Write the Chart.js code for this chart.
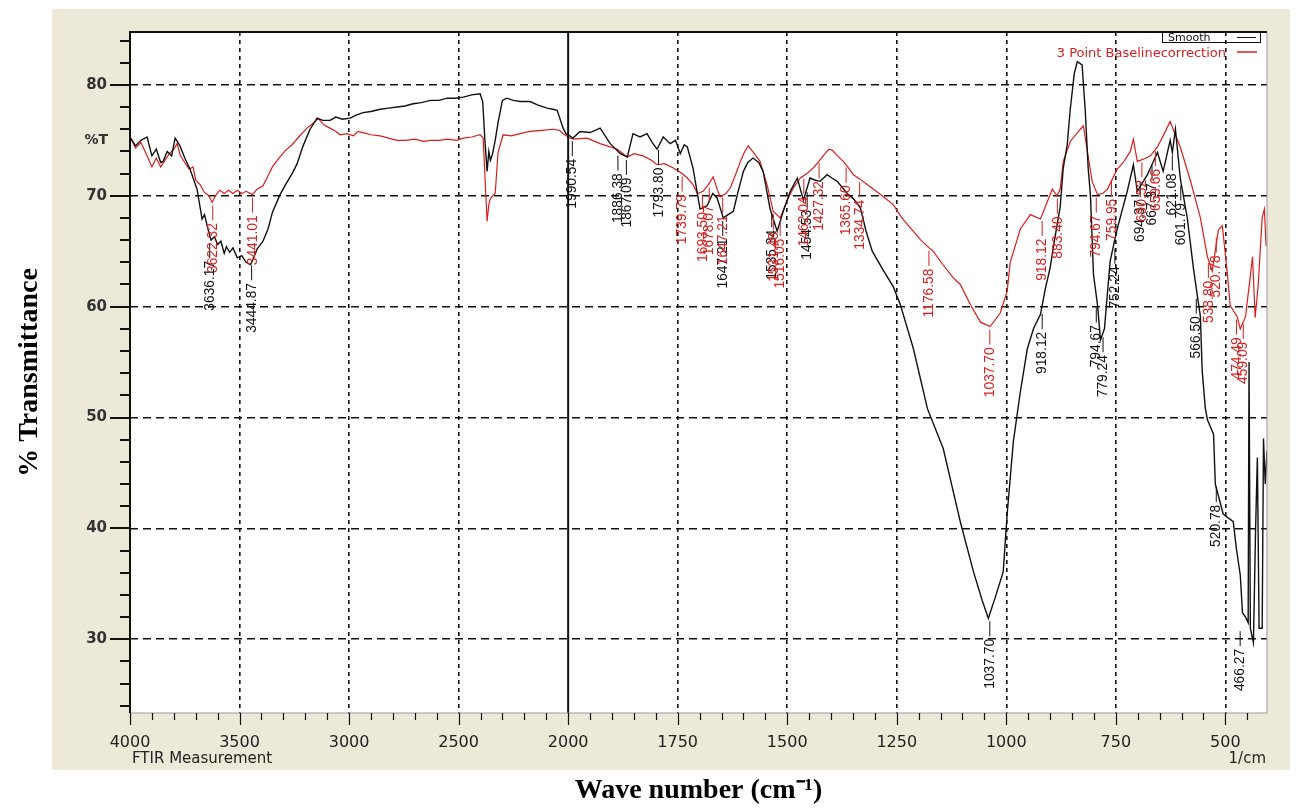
<!DOCTYPE html>
<html>
<head>
<meta charset="utf-8">
<script src="https://cdn.jsdelivr.net/npm/chart.js@4.4.1/dist/chart.umd.min.js"></script>
<style>
  html, body { margin: 0; padding: 0; background: #fff; }
</style>
</head>
<body>
<canvas id="ftir" width="1296" height="808"></canvas>
<script>
// wavenumber (1/cm), %T
const smoothPts = [
  [4000,75.3],[3975,74.5],[3950,75.0],[3922,75.3],[3900,73.6],[3880,74.2],[3860,73.0],[3849,73.1],[3830,74.0],[3810,73.6],
  [3794,75.2],[3772,74.5],[3750,73.4],[3726,72.4],[3694,70.6],[3671,67.9],[3660,68.3],[3644,67.0],[3630,66.0],[3615,66.3],
  [3600,65.6],[3585,65.9],[3570,64.8],[3560,65.4],[3545,64.9],[3530,65.3],[3510,64.4],[3490,64.6],[3470,64.0],[3450,63.8],
  [3444,64.0],[3420,65.2],[3393,65.9],[3370,67.0],[3350,68.5],[3315,70.1],[3290,71.0],[3260,72.0],[3237,72.9],[3210,74.5],
  [3178,76.0],[3146,77.0],[3120,76.8],[3087,76.8],[3060,77.1],[3030,76.9],[2995,77.0],[2965,77.3],[2936,77.5],[2900,77.6],
  [2858,77.8],[2820,77.9],[2781,78.0],[2745,78.1],[2708,78.3],[2670,78.4],[2630,78.6],[2590,78.6],[2552,78.8],[2515,78.8],
  [2479,78.9],[2440,79.1],[2402,79.2],[2390,78.5],[2380,75.0],[2370,72.2],[2362,74.0],[2355,73.2],[2345,73.8],[2333,75.0],
  [2320,76.6],[2300,78.6],[2280,78.8],[2250,78.6],[2220,78.5],[2174,78.5],[2140,78.2],[2096,77.9],[2070,77.8],[2050,77.7],
  [2035,76.8],[2023,76.1],[2010,75.6],[2000,75.5],[1989,75.2],[1973,75.8],[1950,75.7],[1927,76.1],[1904,74.7],[1881,73.8],
  [1865,73.5],[1852,75.6],[1836,75.3],[1820,75.6],[1808,74.8],[1797,74.2],[1783,75.3],[1767,74.7],[1755,75.0],[1744,73.8],
  [1735,74.6],[1728,74.4],[1715,72.5],[1699,68.8],[1683,69.1],[1670,70.2],[1660,69.8],[1646,68.0],[1635,68.3],[1623,68.6],
  [1612,70.4],[1600,72.2],[1590,73.0],[1578,73.4],[1565,73.0],[1555,72.2],[1539,68.8],[1523,66.8],[1509,68.6],[1493,70.4],
  [1477,71.6],[1463,69.6],[1448,71.6],[1436,71.4],[1425,71.3],[1409,71.9],[1398,71.6],[1386,71.3],[1363,70.2],[1348,69.7],
  [1333,68.9],[1320,66.8],[1306,65.0],[1281,63.3],[1258,61.8],[1242,60.2],[1212,56.2],[1180,50.8],[1144,47.2],[1125,44.0],
  [1105,40.6],[1075,36.1],[1055,33.5],[1041,31.9],[1025,33.8],[1007,36.1],[998,41.3],[984,47.8],[968,52.3],[952,56.2],
  [938,58.0],[922,59.3],[911,61.6],[900,63.5],[890,66.0],[877,69.0],[870,72.5],[861,74.6],[854,77.8],[845,81.0],
  [838,82.1],[827,81.8],[820,77.8],[813,72.4],[808,70.1],[801,62.9],[792,60.2],[785,57.0],[776,58.0],[763,64.1],
  [747,67.0],[724,70.4],[710,72.8],[701,70.4],[678,71.9],[655,73.9],[642,72.2],[626,75.0],[621,73.9],[614,76.0],
  [603,71.6],[587,68.0],[573,63.5],[564,61.0],[557,59.1],[553,54.3],[546,50.9],[541,49.8],[527,48.5],[523,44.0],
  [505,41.3],[482,40.6],[475,38.2],[466,35.8],[461,32.4],[454,32.0],[448,31.5],[446,55.0],[443,31.0],[436,29.7],
  [431,40.0],[427,46.4],[423,31.0],[416,31.0],[413,48.1],[409,44.0],[405,47.0]
];
const baselinePts = [
  [4000,75.3],[3975,74.3],[3950,74.8],[3922,73.6],[3900,72.6],[3880,73.4],[3860,72.6],[3840,73.2],[3820,73.8],[3800,74.2],
  [3785,74.7],[3770,73.6],[3750,73.0],[3730,72.4],[3712,72.6],[3700,71.4],[3680,71.0],[3660,70.3],[3640,70.0],[3625,69.4],
  [3610,70.0],[3590,70.5],[3570,70.2],[3550,70.5],[3530,70.2],[3510,70.5],[3490,70.2],[3470,70.4],[3441,70.1],[3420,70.6],
  [3393,70.9],[3370,71.8],[3350,72.6],[3320,73.4],[3290,74.1],[3260,74.6],[3230,75.3],[3192,76.1],[3160,76.6],[3142,77.0],
  [3115,76.4],[3087,76.1],[3060,75.8],[3041,75.5],[3010,75.6],[2980,75.4],[2960,75.8],[2936,75.7],[2900,75.5],[2858,75.4],
  [2820,75.2],[2781,75.0],[2740,75.0],[2700,75.1],[2660,74.9],[2630,75.0],[2590,75.0],[2550,75.1],[2510,75.0],[2479,75.2],
  [2440,75.3],[2402,75.5],[2388,75.2],[2378,71.0],[2370,67.7],[2362,69.2],[2356,69.7],[2345,70.0],[2333,70.2],[2320,73.9],
  [2297,75.5],[2260,75.4],[2220,75.6],[2174,75.8],[2120,75.9],[2068,76.0],[2040,75.9],[2023,75.6],[2000,75.3],[1989,75.1],
  [1957,75.2],[1927,74.7],[1888,74.2],[1865,73.5],[1850,73.8],[1829,73.6],[1810,73.2],[1797,72.8],[1780,72.9],[1760,72.5],
  [1740,72.0],[1728,71.6],[1715,71.0],[1705,70.2],[1692,70.4],[1680,71.0],[1669,71.7],[1660,70.6],[1653,69.9],[1640,70.2],
  [1630,70.7],[1618,71.9],[1607,73.1],[1598,73.9],[1589,74.5],[1575,73.8],[1562,73.1],[1546,71.0],[1532,68.6],[1516,68.0],
  [1500,69.6],[1486,70.7],[1470,71.6],[1455,72.0],[1441,72.5],[1430,73.0],[1418,73.6],[1405,74.2],[1397,74.1],[1385,73.6],
  [1372,73.1],[1360,72.5],[1349,71.9],[1334,71.5],[1317,71.0],[1290,70.2],[1258,69.2],[1240,68.1],[1219,67.1],[1195,66.0],
  [1176,65.3],[1167,65.0],[1145,63.8],[1121,62.6],[1105,62.0],[1082,60.2],[1059,58.6],[1037,58.2],[1014,59.4],[998,61.4],
  [991,64.0],[968,67.0],[945,68.3],[922,67.9],[906,69.5],[895,70.6],[884,70.0],[877,70.6],[870,73.1],[854,74.9],
  [831,76.0],[824,76.3],[815,74.0],[804,71.3],[792,70.1],[780,70.2],[769,70.6],[747,72.4],[733,73.0],[717,74.0],
  [710,75.1],[701,73.1],[687,73.3],[671,73.6],[655,74.4],[642,75.4],[626,76.7],[615,75.6],[603,74.4],[580,71.4],
  [557,68.0],[541,64.5],[530,63.2],[516,66.9],[507,67.3],[496,63.2],[489,60.1],[473,59.1],[466,58.0],[454,59.1],
  [443,62.8],[438,64.5],[432,59.0],[425,62.0],[416,68.0],[411,68.8],[407,65.5]
];
const xTickWn = [4000, 3500, 3000, 2500, 2000, 1750, 1500, 1250, 1000, 750, 500];
// peak picks: [wavenumber, %T, text]
const smoothPeaks = [
  [3636.17,66.0,'3636.17'],[3444.87,64.0,'3444.87'],[1990.54,75.2,'1990.54'],[1886.38,73.9,'1886.38'],
  [1867.09,73.5,'1867.09'],[1793.80,74.4,'1793.80'],[1647.21,68.0,'1647.21'],[1535.34,68.8,'1535.34'],
  [1454.53,70.6,'1454.53'],[1037.70,31.9,'1037.70'],[918.12,59.6,'918.12'],[794.67,60.2,'794.67'],
  [779.24,57.5,'779.24'],[752.24,65.5,'752.24'],[694.37,71.5,'694.37'],[667.37,73.0,'667.37'],
  [621.08,73.9,'621.08'],[601.79,71.2,'601.79'],[566.50,61.0,'566.50'],[520.78,44.0,'520.78'],[466.27,31.0,'466.27']
];
const baselinePeaks = [
  [3622.32,69.4,'3622.32'],[3441.01,70.1,'3441.01'],[1739.79,72.0,'1739.79'],[1693.50,70.4,'1693.50'],
  [1678.07,71.0,'1678.07'],[1647.21,70.1,'1647.21'],[1531.48,68.6,'1531.48'],[1516.05,68.0,'1516.05'],
  [1462.04,71.8,'1462.04'],[1427.32,73.2,'1427.32'],[1365.60,72.8,'1365.60'],[1334.74,71.5,'1334.74'],
  [1176.58,65.3,'1176.58'],[1037.70,58.2,'1037.70'],[918.12,68.0,'918.12'],[883.40,70.0,'883.40'],
  [794.67,70.1,'794.67'],[759.95,71.6,'759.95'],[690.52,73.3,'690.52'],[659.66,74.3,'659.66'],
  [538.80,64.2,'538.80'],[520.78,66.5,'520.78'],[474.49,59.1,'474.49'],[459.09,58.7,'459.09']
];

// axis is split at 2000: 500 per unit above, 250 per unit below
const toU = (wn) => wn >= 2000 ? (4000 - wn) / 500 : 4 + (2000 - wn) / 250;
const isMajor = (v) => Math.abs(v - Math.round(v)) < 1e-6;
const isTen = (v) => Math.abs(v / 10 - Math.round(v / 10)) < 1e-6;

const RED = '#d81e1e';

function drawPeak(ctx, xs, ys, p, color) {
  const px = xs.getPixelForValue(toU(p[0]));
  const py = ys.getPixelForValue(p[1]);
  ctx.save();
  ctx.translate(px, py);
  ctx.rotate(-Math.PI / 2);
  ctx.strokeStyle = color;
  ctx.lineWidth = 1;
  ctx.beginPath(); ctx.moveTo(-3, 0); ctx.lineTo(-18, 0); ctx.stroke();
  ctx.scale(1.15, 1.25);
  ctx.fillStyle = color;
  ctx.font = '12px "Liberation Sans", Arial, sans-serif';
  ctx.textAlign = 'right';
  ctx.textBaseline = 'middle';
  ctx.fillText(p[2], -18, 0);
  ctx.restore();
}

const ftirFrame = {
  id: 'ftirFrame',
  beforeDraw(chart) {
    const {ctx, chartArea: a} = chart;
    ctx.save();
    ctx.fillStyle = '#ece9d8';
    ctx.fillRect(52, 9, 1238, 761);
    ctx.fillStyle = '#fff';
    ctx.fillRect(a.left, a.top, a.right - a.left, a.bottom - a.top);
    ctx.restore();
  },
  afterDraw(chart) {
    const {ctx, chartArea: a, scales: {x, y}} = chart;
    ctx.save();
    // solid split line at 2000
    const xs = x.getPixelForValue(toU(2000));
    ctx.strokeStyle = '#111'; ctx.lineWidth = 2;
    ctx.beginPath(); ctx.moveTo(xs, a.top); ctx.lineTo(xs, a.bottom); ctx.stroke();

    // frame
    ctx.strokeStyle = '#9a9a9a'; ctx.lineWidth = 1;
    ctx.beginPath();
    ctx.moveTo(a.right, a.top); ctx.lineTo(a.right, a.bottom); ctx.lineTo(a.left, a.bottom);
    ctx.stroke();
    ctx.strokeStyle = '#111'; ctx.lineWidth = 2;
    ctx.beginPath();
    ctx.moveTo(a.left, a.bottom); ctx.lineTo(a.left, a.top); ctx.lineTo(a.right, a.top);
    ctx.stroke();

    // tick marks
    ctx.lineWidth = 2;
    y.ticks.forEach(t => {
      const py = Math.round(y.getPixelForValue(t.value));
      const len = isTen(t.value) ? 20 : 10;
      ctx.beginPath(); ctx.moveTo(a.left - len, py); ctx.lineTo(a.left, py); ctx.stroke();
    });
    ctx.lineWidth = 1.2;
    x.ticks.forEach(t => {
      const px = Math.round(x.getPixelForValue(t.value)) + 0.5;
      const len = isMajor(t.value) ? 12 : 7;
      ctx.beginPath(); ctx.moveTo(px, a.bottom); ctx.lineTo(px, a.bottom + len); ctx.stroke();
    });

    // %T marker on y axis
    ctx.fillStyle = '#333';
    ctx.font = 'bold 14px "DejaVu Sans", sans-serif';
    ctx.textAlign = 'right'; ctx.textBaseline = 'middle';
    ctx.fillText('%T', a.left - 22, y.getPixelForValue(75));

    // footer texts
    ctx.fillStyle = '#222';
    ctx.font = '15px "DejaVu Sans", sans-serif';
    ctx.textBaseline = 'alphabetic';
    ctx.textAlign = 'left';
    ctx.fillText('FTIR Measurement', a.left + 2, 763);
    ctx.textAlign = 'right';
    ctx.fillText('1/cm', a.right - 1, 763);

    // peak picks
    smoothPeaks.forEach(p => drawPeak(ctx, x, y, p, '#111'));
    baselinePeaks.forEach(p => drawPeak(ctx, x, y, p, RED));

    // legend
    ctx.textBaseline = 'alphabetic';
    ctx.strokeStyle = '#111'; ctx.lineWidth = 1;
    ctx.strokeRect(1162.5, 31.5, 98, 11);
    ctx.font = '11px "DejaVu Sans", sans-serif';
    ctx.fillStyle = '#111'; ctx.textAlign = 'left';
    ctx.fillText('Smooth', 1168, 41);
    ctx.beginPath(); ctx.moveTo(1237, 37.5); ctx.lineTo(1256, 37.5); ctx.stroke();
    ctx.font = '13px "DejaVu Sans", sans-serif';
    ctx.fillStyle = RED; ctx.textAlign = 'right';
    ctx.fillText('3 Point Baselinecorrection', 1226, 57);
    ctx.strokeStyle = RED; ctx.lineWidth = 1.5;
    ctx.beginPath(); ctx.moveTo(1237, 52); ctx.lineTo(1257, 52); ctx.stroke();
    ctx.restore();
  }
};

new Chart(document.getElementById('ftir'), {
  type: 'line',
  data: {
    datasets: [
      { label: 'Smooth', data: smoothPts.map(p => ({x: toU(p[0]), y: p[1]})),
        borderColor: '#111', borderWidth: 1.4, pointRadius: 0, tension: 0 },
      { label: '3 Point Baselinecorrection', data: baselinePts.map(p => ({x: toU(p[0]), y: p[1]})),
        borderColor: RED, borderWidth: 1.2, pointRadius: 0, tension: 0 }
    ]
  },
  options: {
    responsive: false,
    animation: false,
    parsing: false,
    layout: { padding: { top: 30, right: 29, bottom: 0, left: 0 } },
    plugins: { legend: { display: false }, tooltip: { enabled: false } },
    scales: {
      x: {
        type: 'linear', min: 0, max: 10.38,
        afterFit: (s) => { s.height = 95; },
        ticks: {
          stepSize: 0.2, includeBounds: false, autoSkip: false, maxRotation: 0, maxTicksLimit: 100,
          padding: 20, color: '#222', font: { family: '"DejaVu Sans", sans-serif', size: 16 },
          callback: (v) => isMajor(v) ? String(xTickWn[Math.round(v)]) : ''
        },
        grid: {
          drawTicks: false, lineWidth: 1.6,
          color: (c) => (c.tick && isMajor(c.tick.value) && c.tick.value > 0.5 && Math.round(c.tick.value) !== 4) ? '#111' : 'rgba(0,0,0,0)'
        },
        border: { display: false, dash: [4, 4] },
        title: {
          display: true, text: 'Wave number (cm\u207B\u00B9)', color: '#000',
          font: { family: '"Liberation Serif", "Times New Roman", serif', size: 28, weight: 'bold' },
          padding: { top: 0, bottom: 0 }
        }
      },
      y: {
        type: 'linear', min: 23.35, max: 84.77,
        afterFit: (s) => { s.width = 130; },
        ticks: {
          stepSize: 2, includeBounds: false, autoSkip: false, maxTicksLimit: 100,
          padding: 23, color: '#333', font: { family: '"DejaVu Sans", sans-serif', size: 15, weight: 'bold' },
          callback: (v) => isTen(v) ? String(Math.round(v)) : ''
        },
        grid: {
          drawTicks: false, lineWidth: 1.6,
          color: (c) => (c.tick && isTen(c.tick.value)) ? '#111' : 'rgba(0,0,0,0)'
        },
        border: { display: false, dash: [8, 5] },
        title: {
          display: true, text: '% Transmittance', color: '#000',
          font: { family: '"Liberation Serif", "Times New Roman", serif', size: 28, weight: 'bold' },
          padding: { top: 13, bottom: 0 }
        }
      }
    }
  },
  plugins: [ftirFrame]
});
</script>
</body>
</html>
